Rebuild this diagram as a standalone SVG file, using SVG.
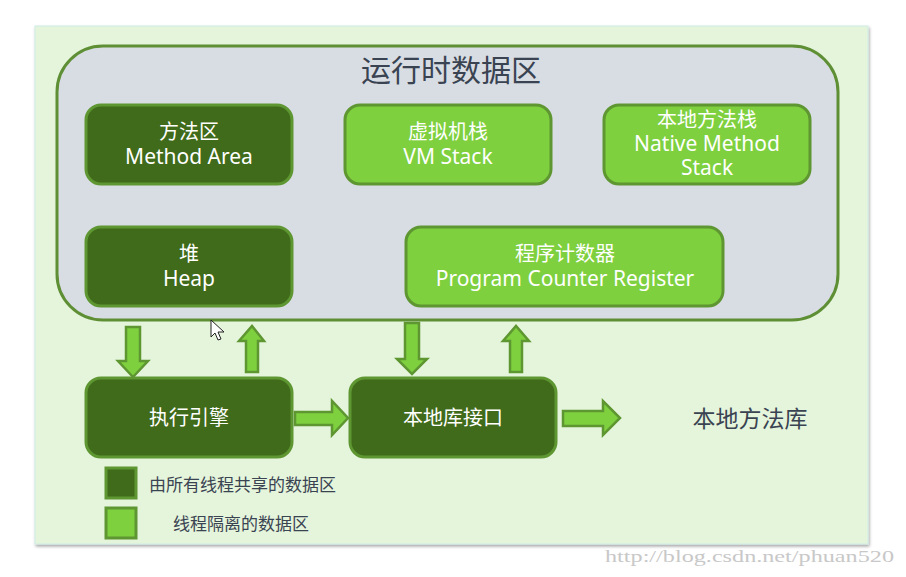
<svg xmlns="http://www.w3.org/2000/svg" width="906" height="577" viewBox="0 0 906 577">
<defs>
<style>
.dark{fill:#3F6B1A;stroke:#5E9632;stroke-width:3}
.light{fill:#7ED03E;stroke:#5E9632;stroke-width:3}
.arr{fill:#7ED03E;stroke:#5E9632;stroke-width:2.5;stroke-linejoin:miter}
.wt{fill:#FFFFFF;font-family:"Noto Sans","Noto Sans CJK SC",sans-serif;font-size:20px;text-anchor:middle}
.en{font-size:21px}
.dt{fill:#3A4352;font-family:"Noto Sans CJK SC",sans-serif}
</style>
<filter id="sh" x="-5%" y="-5%" width="110%" height="110%">
<feDropShadow dx="1" dy="2" stdDeviation="1.5" flood-color="#000" flood-opacity="0.35"/>
</filter>
</defs>
<rect width="906" height="577" fill="#FFFFFF"/>
<rect x="35" y="26" width="833" height="518" fill="#E5F5DB" stroke="#CFEBE6" stroke-width="1" filter="url(#sh)"/>

<g id="runtime-area">
<rect x="57" y="46" width="781" height="274" rx="46" fill="#D8DDE3" stroke="#5E8F35" stroke-width="3"/>
<text x="451" y="81" class="dt" font-size="30" text-anchor="middle">运行时数据区</text>
</g>

<g id="method-area">
<rect class="dark" x="86" y="105" width="206" height="79" rx="15"/>
<text class="wt" x="189" y="139">方法区</text>
<text class="wt en" x="189" y="164">Method Area</text>
</g>
<g id="vm-stack">
<rect class="light" x="345" y="105" width="206" height="79" rx="15"/>
<text class="wt" x="448" y="139">虚拟机栈</text>
<text class="wt en" x="448" y="164">VM Stack</text>
</g>
<g id="native-method-stack">
<rect class="light" x="604" y="105" width="206" height="79" rx="15"/>
<text class="wt" x="707" y="127">本地方法栈</text>
<text class="wt en" x="707" y="151">Native Method</text>
<text class="wt en" x="707" y="175">Stack</text>
</g>
<g id="heap">
<rect class="dark" x="86" y="227" width="206" height="79" rx="15"/>
<text class="wt" x="189" y="261">堆</text>
<text class="wt en" x="189" y="286">Heap</text>
</g>
<g id="program-counter">
<rect class="light" x="406" y="227" width="317" height="79" rx="15"/>
<text class="wt" x="565" y="261">程序计数器</text>
<text class="wt en" x="565" y="286">Program Counter Register</text>
</g>

<g id="execution-engine">
<rect class="dark" x="86" y="378" width="206" height="79" rx="15"/>
<text class="wt" x="189" y="425" font-size="21">执行引擎</text>
</g>
<g id="native-interface">
<rect class="dark" x="350" y="378" width="206" height="79" rx="15"/>
<text class="wt" x="453" y="425" font-size="21">本地库接口</text>
</g>
<g id="native-library">
<text x="750" y="427" class="dt" font-size="23" text-anchor="middle">本地方法库</text>
</g>

<g id="connectors">
<polygon class="arr" points="126,327 140,327 140,361 148,361 133,377 118,361 126,361"/>
<polygon class="arr" points="246,372 258,372 258,341 264,341 252,326 239,341 246,341"/>
<polygon class="arr" points="405,323 419,323 419,359 427,359 412,374 397,359 405,359"/>
<polygon class="arr" points="510,372 522,372 522,341 529,341 516,326 503,341 510,341"/>
<polygon class="arr" points="295,412 332,412 332,401 348,418 332,435 332,425 295,425"/>
<polygon class="arr" points="563,411 603,411 603,401 620,418 603,435 603,426 563,426"/>
</g>

<g id="legend">
<rect class="dark" x="106" y="468" width="30" height="30"/>
<text x="149" y="491" class="dt" font-size="17">由所有线程共享的数据区</text>
<rect class="light" x="106" y="508" width="30" height="30"/>
<text x="173" y="530" class="dt" font-size="17">线程隔离的数据区</text>
</g>

<path d="M211,320 L211,337 L215,333 L218,340 L221,339 L218,332 L224,332 Z" fill="#FFFFFF" stroke="#222" stroke-width="1"/>

<text x="605" y="562" fill="#C8C8C8" font-family="Liberation Serif,serif" font-size="17" textLength="289" lengthAdjust="spacingAndGlyphs">http://blog.csdn.net/phuan520</text>
</svg>
